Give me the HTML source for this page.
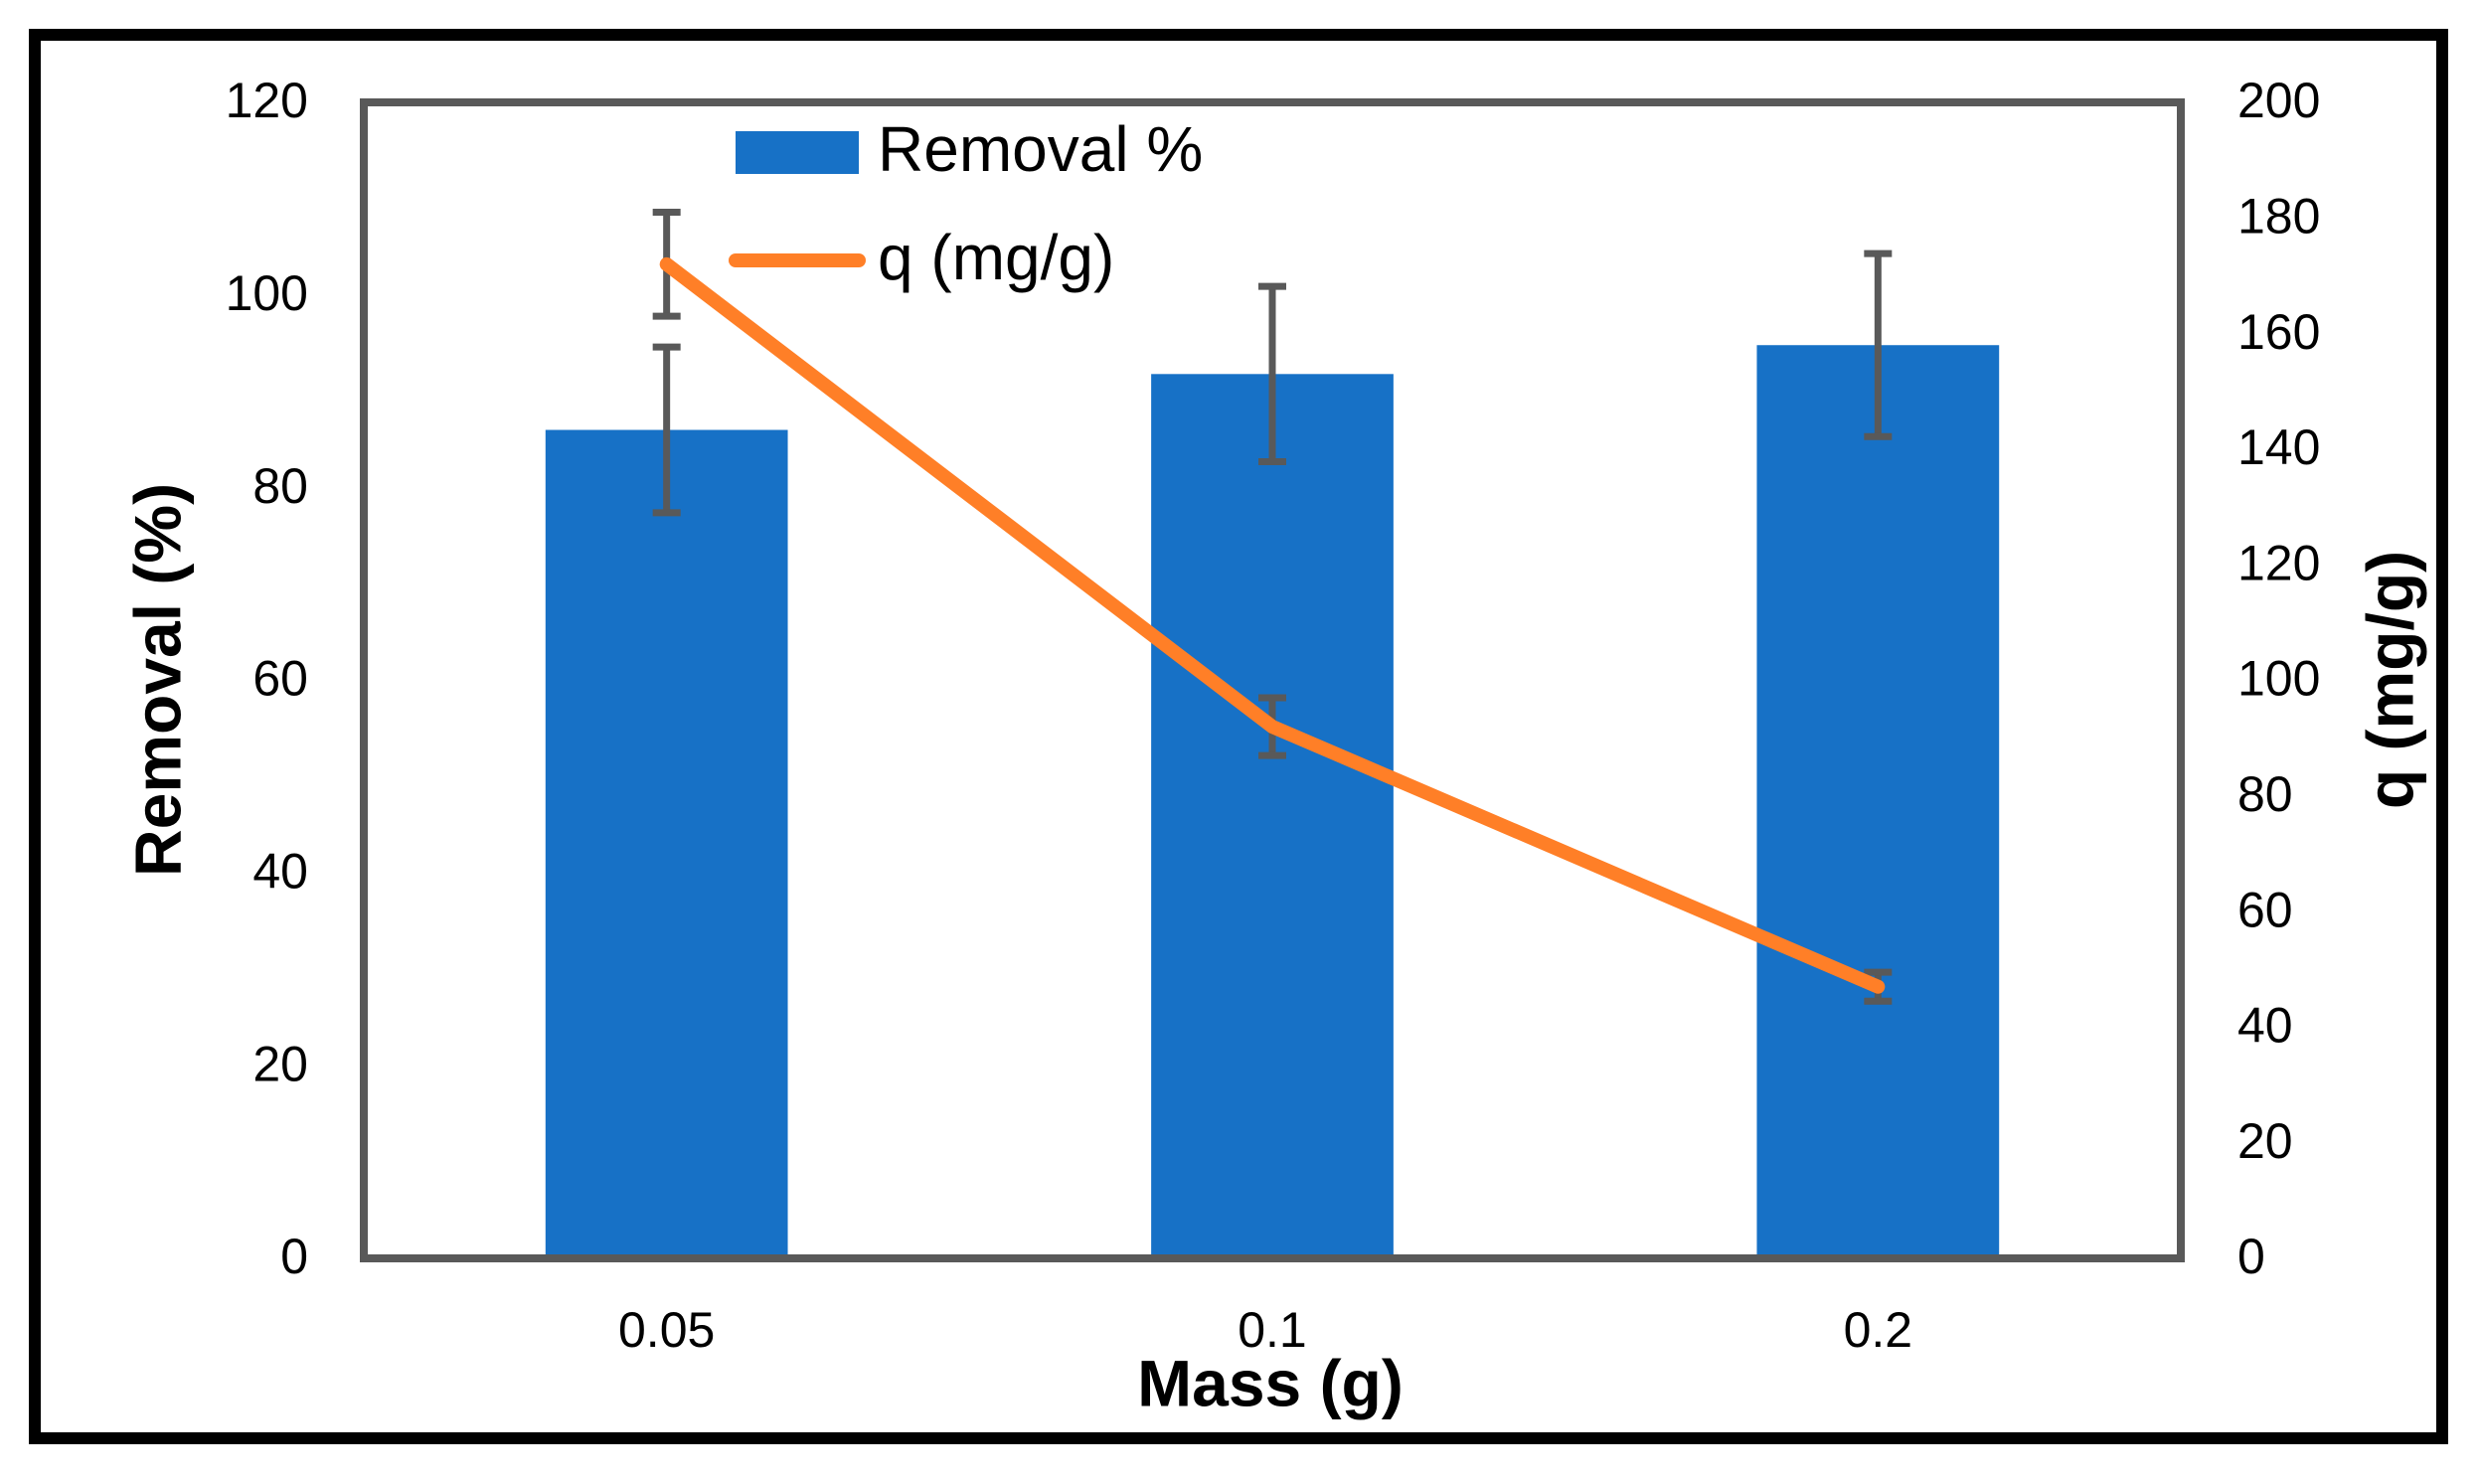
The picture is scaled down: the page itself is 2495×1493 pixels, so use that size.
<!DOCTYPE html>
<html><head><meta charset="utf-8"><style>
html,body{margin:0;padding:0;background:#fff;}
svg text{font-family:"Liberation Sans",sans-serif;fill:#000;}
</style></head><body>
<svg id="chart" width="2495" height="1488" viewBox="0 0 2495 1488">
<rect x="35" y="35" width="2422" height="1412" fill="#fff" stroke="#000" stroke-width="12"/>
<g id="marks"></g>
<rect x="366" y="103" width="1828" height="1163" fill="none" stroke="#595959" stroke-width="8"/>
<g id="labels"></g>
<text x="164" y="684" font-size="66" font-weight="bold" text-anchor="middle" dominant-baseline="middle" transform="rotate(-90 164 684)">Removal (%)</text>
<text x="2410" y="684" font-size="66" font-weight="bold" text-anchor="middle" dominant-baseline="middle" transform="rotate(-90 2410 684)">q (mg/g)</text>
<text x="1278" y="1397" font-size="66" font-weight="bold" text-anchor="middle" dominant-baseline="middle">Mass (g)</text>
<g>
<rect x="740" y="132" width="124" height="43" fill="#1771C6"/>
<text x="883" y="155" font-size="64" dominant-baseline="middle">Removal %</text>
<line x1="740" y1="262" x2="864" y2="262" stroke="#FF7F27" stroke-width="14" stroke-linecap="round"/>
<text x="883" y="264" font-size="64" dominant-baseline="middle">q (mg/g)</text>
</g>
</svg>
<script>
const categories = ["0.05", "0.1", "0.2"];
const removal = [86, 91.8, 94.8];
const removalErr = [8.6, 9.1, 9.5];
const qValues = [172, 92, 47];
const qErr = [9, 5, 2.5];
const yTicks = [0, 20, 40, 60, 80, 100, 120];
const y2Ticks = [0, 20, 40, 60, 80, 100, 120, 140, 160, 180, 200];

const NS = "http://www.w3.org/2000/svg";
const L = 366, R = 2194, T = 103, B = 1266;
const band = (R - L) / categories.length;
function xC(i){ return L + band * (i + 0.5); }
function yL(v){ return B - (v / 120) * (B - T); }
function yR(v){ return B - (v / 200) * (B - T); }
function mk(tag, attrs, parent){
  const e = document.createElementNS(NS, tag);
  for (const k in attrs) e.setAttribute(k, attrs[k]);
  parent.appendChild(e);
  return e;
}
const marks = document.getElementById('marks');
const labels = document.getElementById('labels');
const bw = band * 0.4;

function errBar(x, lo, hi, name){
  const g = mk('g', {stroke:'#595959','stroke-width':7}, marks);
  
  
  mk('line', {x1:x, x2:x, y1:lo, y2:hi}, g);
  mk('line', {x1:x-14, x2:x+14, y1:lo, y2:lo}, g);
  mk('line', {x1:x-14, x2:x+14, y1:hi, y2:hi}, g);
}

categories.forEach((c, i) => {
  const r = mk('rect', {x:xC(i)-bw/2, y:yL(removal[i]), width:bw, height:B-yL(removal[i]), fill:'#1771C6'}, marks);
  
  
});
categories.forEach((c, i) => {
  errBar(xC(i), yL(removal[i]-removalErr[i]), yL(removal[i]+removalErr[i]), 'removal-error-' + c);
  errBar(xC(i), yR(qValues[i]-qErr[i]), yR(qValues[i]+qErr[i]), 'q-error-' + c);
});
const pl = mk('polyline', {points: qValues.map((v,i)=>xC(i)+','+yR(v)).join(' '), fill:'none', stroke:'#FF7F27','stroke-width':14,'stroke-linecap':'round','stroke-linejoin':'round'}, marks);



yTicks.forEach(v => {
  const t = mk('text', {x:310, y:yL(v)+2, 'font-size':50, 'text-anchor':'end', 'dominant-baseline':'middle'}, labels);
  t.textContent = v;
  
  
});
y2Ticks.forEach(v => {
  const t = mk('text', {x:2251, y:yR(v)+2, 'font-size':50, 'text-anchor':'start', 'dominant-baseline':'middle'}, labels);
  t.textContent = v;
  
  
});
categories.forEach((c, i) => {
  const t = mk('text', {x:xC(i), y:1342, 'font-size':50, 'text-anchor':'middle', 'dominant-baseline':'middle'}, labels);
  t.textContent = c;
  
  
});
</script>
</body></html>
